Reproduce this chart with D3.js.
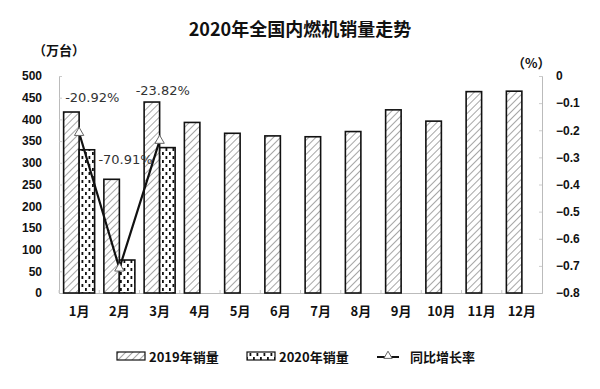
<!DOCTYPE html>
<html>
<head>
<meta charset="utf-8">
<script src="https://cdn.jsdelivr.net/npm/d3@7/dist/d3.min.js"></script>
<style>
body { margin: 0; background: #fff; }
text { font-family: "Noto Sans CJK SC", "DejaVu Sans", sans-serif; }
</style>
</head>
<body>
<svg id="mainSvg" width="600" height="389"></svg>
<script>
const months = ["1月", "2月", "3月", "4月", "5月", "6月", "7月", "8月", "9月", "10月", "11月", "12月"];
const sales2019 = [417, 262, 440, 393, 368, 362, 360, 372, 422, 396, 464, 465];
const sales2020 = [330, 76, 335];
const growth = [-0.2092, -0.7091, -0.2382];
const growthLabels = ["-20.92%", "-70.91%", "-23.82%"];
const leftTicks = [0, 50, 100, 150, 200, 250, 300, 350, 400, 450, 500];
const rightTicks = [0, -0.1, -0.2, -0.3, -0.4, -0.5, -0.6, -0.7, -0.8];

let canvas = d3.select("#mainSvg");
let plotLeft = 59, plotRight = 542, plotTop = 76, plotBottom = 293;

let x = d3.scaleBand().domain(months).range([plotLeft, plotRight]);
let yL = d3.scaleLinear().domain([0, 500]).range([plotBottom, plotTop]);
let yR = d3.scaleLinear().domain([-0.8, 0]).range([plotBottom, plotTop]);
let barW = 15.5;

// patterns
let defs = canvas.append("defs");
let hatch = defs.append("pattern")
    .attr("id", "hatch").attr("patternUnits", "userSpaceOnUse")
    .attr("width", 5).attr("height", 5)
    .attr("patternTransform", "rotate(45)");
hatch.append("rect").attr("width", 5).attr("height", 5).attr("fill", "#fff");
hatch.append("line").attr("x1", 0).attr("y1", 0).attr("x2", 0).attr("y2", 5)
    .attr("stroke", "#888").attr("stroke-width", 1.5);

let dots = defs.append("pattern")
    .attr("id", "dots").attr("patternUnits", "userSpaceOnUse")
    .attr("width", 7).attr("height", 8);
dots.append("rect").attr("width", 7).attr("height", 8).attr("fill", "#fff");
dots.append("rect").attr("x", 1).attr("y", 0).attr("width", 1.8).attr("height", 3).attr("fill", "#111");
dots.append("rect").attr("x", 4.5).attr("y", 4).attr("width", 1.8).attr("height", 3).attr("fill", "#111");

// title
canvas.append("text").attr("x", 300).attr("y", 36).attr("text-anchor", "middle")
    .attr("font-size", 18).attr("font-weight", "bold").attr("fill", "#111")
    .text("2020年全国内燃机销量走势");
canvas.append("text").attr("x", 33).attr("y", 55)
    .attr("font-size", 13).attr("font-weight", "bold").attr("fill", "#111").text("（万台）");
canvas.append("text").attr("x", 512).attr("y", 68)
    .attr("font-size", 13).attr("font-weight", "bold").attr("fill", "#111").text("（%）");

// axes
let leftAxis = canvas.append("g").attr("transform", `translate(${plotLeft},0)`)
    .call(d3.axisLeft(yL).tickValues(leftTicks).tickSize(-3).tickPadding(17));
let rightAxis = canvas.append("g").attr("transform", `translate(${plotRight},0)`)
    .call(d3.axisRight(yR).tickValues(rightTicks).tickSize(-3).tickPadding(14)
        .tickFormat(d => d === 0 ? "0" : d3.format(".1f")(d)));
let bottomAxis = canvas.append("g").attr("transform", `translate(0,${plotBottom})`)
    .call(d3.axisBottom(x).tickSize(0).tickPadding(14));

[leftAxis, rightAxis, bottomAxis].forEach(g => {
    g.select(".domain").attr("stroke", "#bbb");
    g.selectAll(".tick line").attr("stroke", "#ccc");
    g.selectAll("text").attr("font-size", 12.5).attr("font-weight", "bold").attr("fill", "#111")
        .style("font-family", "'Noto Sans CJK SC', sans-serif");
});
leftAxis.selectAll("text").attr("font-size", 12).style("font-family", "'Liberation Sans', Arial, sans-serif");
rightAxis.selectAll("text").attr("font-size", 12).style("font-family", "'Liberation Sans', Arial, sans-serif");
bottomAxis.selectAll("text").attr("font-size", 13);

// x ticks between categories
canvas.append("g").selectAll("line")
    .data(months)
    .enter()
        .append("line")
        .attr("x1", d => x(d)).attr("x2", d => x(d))
        .attr("y1", plotBottom).attr("y2", plotBottom - 3)
        .attr("stroke", "#ccc");

// bars
canvas.append("g").selectAll("rect")
    .data(sales2019)
    .enter()
        .append("rect")
        .attr("x", (d, i) => x(months[i]) + x.bandwidth() / 2 - barW)
        .attr("y", d => yL(d))
        .attr("width", barW)
        .attr("height", d => plotBottom - yL(d))
        .attr("fill", "url(#hatch)")
        .attr("stroke", "#111").attr("stroke-width", 1.6);

canvas.append("g").selectAll("rect")
    .data(sales2020)
    .enter()
        .append("rect")
        .attr("x", (d, i) => x(months[i]) + x.bandwidth() / 2)
        .attr("y", d => yL(d))
        .attr("width", barW)
        .attr("height", d => plotBottom - yL(d))
        .attr("fill", "url(#dots)")
        .attr("stroke", "#111").attr("stroke-width", 1.6);

// growth line
let line = d3.line()
    .x((d, i) => x(months[i]) + x.bandwidth() / 2)
    .y(d => yR(d));
canvas.append("path").datum(growth)
    .attr("d", line).attr("fill", "none")
    .attr("stroke", "#111").attr("stroke-width", 2.2);

let tri = d3.symbol().type(d3.symbolTriangle).size(38);
canvas.append("g").selectAll("path")
    .data(growth)
    .enter()
        .append("path")
        .attr("d", tri)
        .attr("transform", (d, i) => `translate(${x(months[i]) + x.bandwidth() / 2},${yR(d)})`)
        .attr("fill", "#fff").attr("stroke", "#666").attr("stroke-width", 1);

// data labels (offsets from each point)
let labelPos = [[-14, -31], [-21, -104], [-24, -46]];
canvas.append("g").selectAll("text")
    .data(growth)
    .enter()
        .append("text")
        .attr("x", (d, i) => x(months[i]) + x.bandwidth() / 2 + labelPos[i][0])
        .attr("y", (d, i) => yR(d) + labelPos[i][1])
        .attr("font-size", 13).attr("fill", "#333")
        .style("font-family", "'DejaVu Sans', sans-serif")
        .text((d, i) => growthLabels[i]);

// legend
let lg = canvas.append("g").attr("transform", "translate(0,357)");
lg.append("rect").attr("x", 117).attr("y", -5).attr("width", 28).attr("height", 8)
    .attr("fill", "url(#hatch)").attr("stroke", "#111").attr("stroke-width", 1.2);
lg.append("text").attr("x", 149).attr("y", 5).attr("font-size", 13).attr("font-weight", "bold")
    .attr("fill", "#111").text("2019年销量");
lg.append("rect").attr("x", 247).attr("y", -5).attr("width", 28).attr("height", 8)
    .attr("fill", "url(#dots)").attr("stroke", "#111").attr("stroke-width", 1.2);
lg.append("text").attr("x", 279).attr("y", 5).attr("font-size", 13).attr("font-weight", "bold")
    .attr("fill", "#111").text("2020年销量");
lg.append("line").attr("x1", 377).attr("x2", 399).attr("y1", 0).attr("y2", 0)
    .attr("stroke", "#111").attr("stroke-width", 2);
lg.append("path").attr("d", d3.symbol().type(d3.symbolTriangle).size(30))
    .attr("transform", "translate(388,-1)")
    .attr("fill", "#fff").attr("stroke", "#666");
lg.append("text").attr("x", 410).attr("y", 5).attr("font-size", 13).attr("font-weight", "bold")
    .attr("fill", "#111").text("同比增长率");
</script>
</body>
</html>
